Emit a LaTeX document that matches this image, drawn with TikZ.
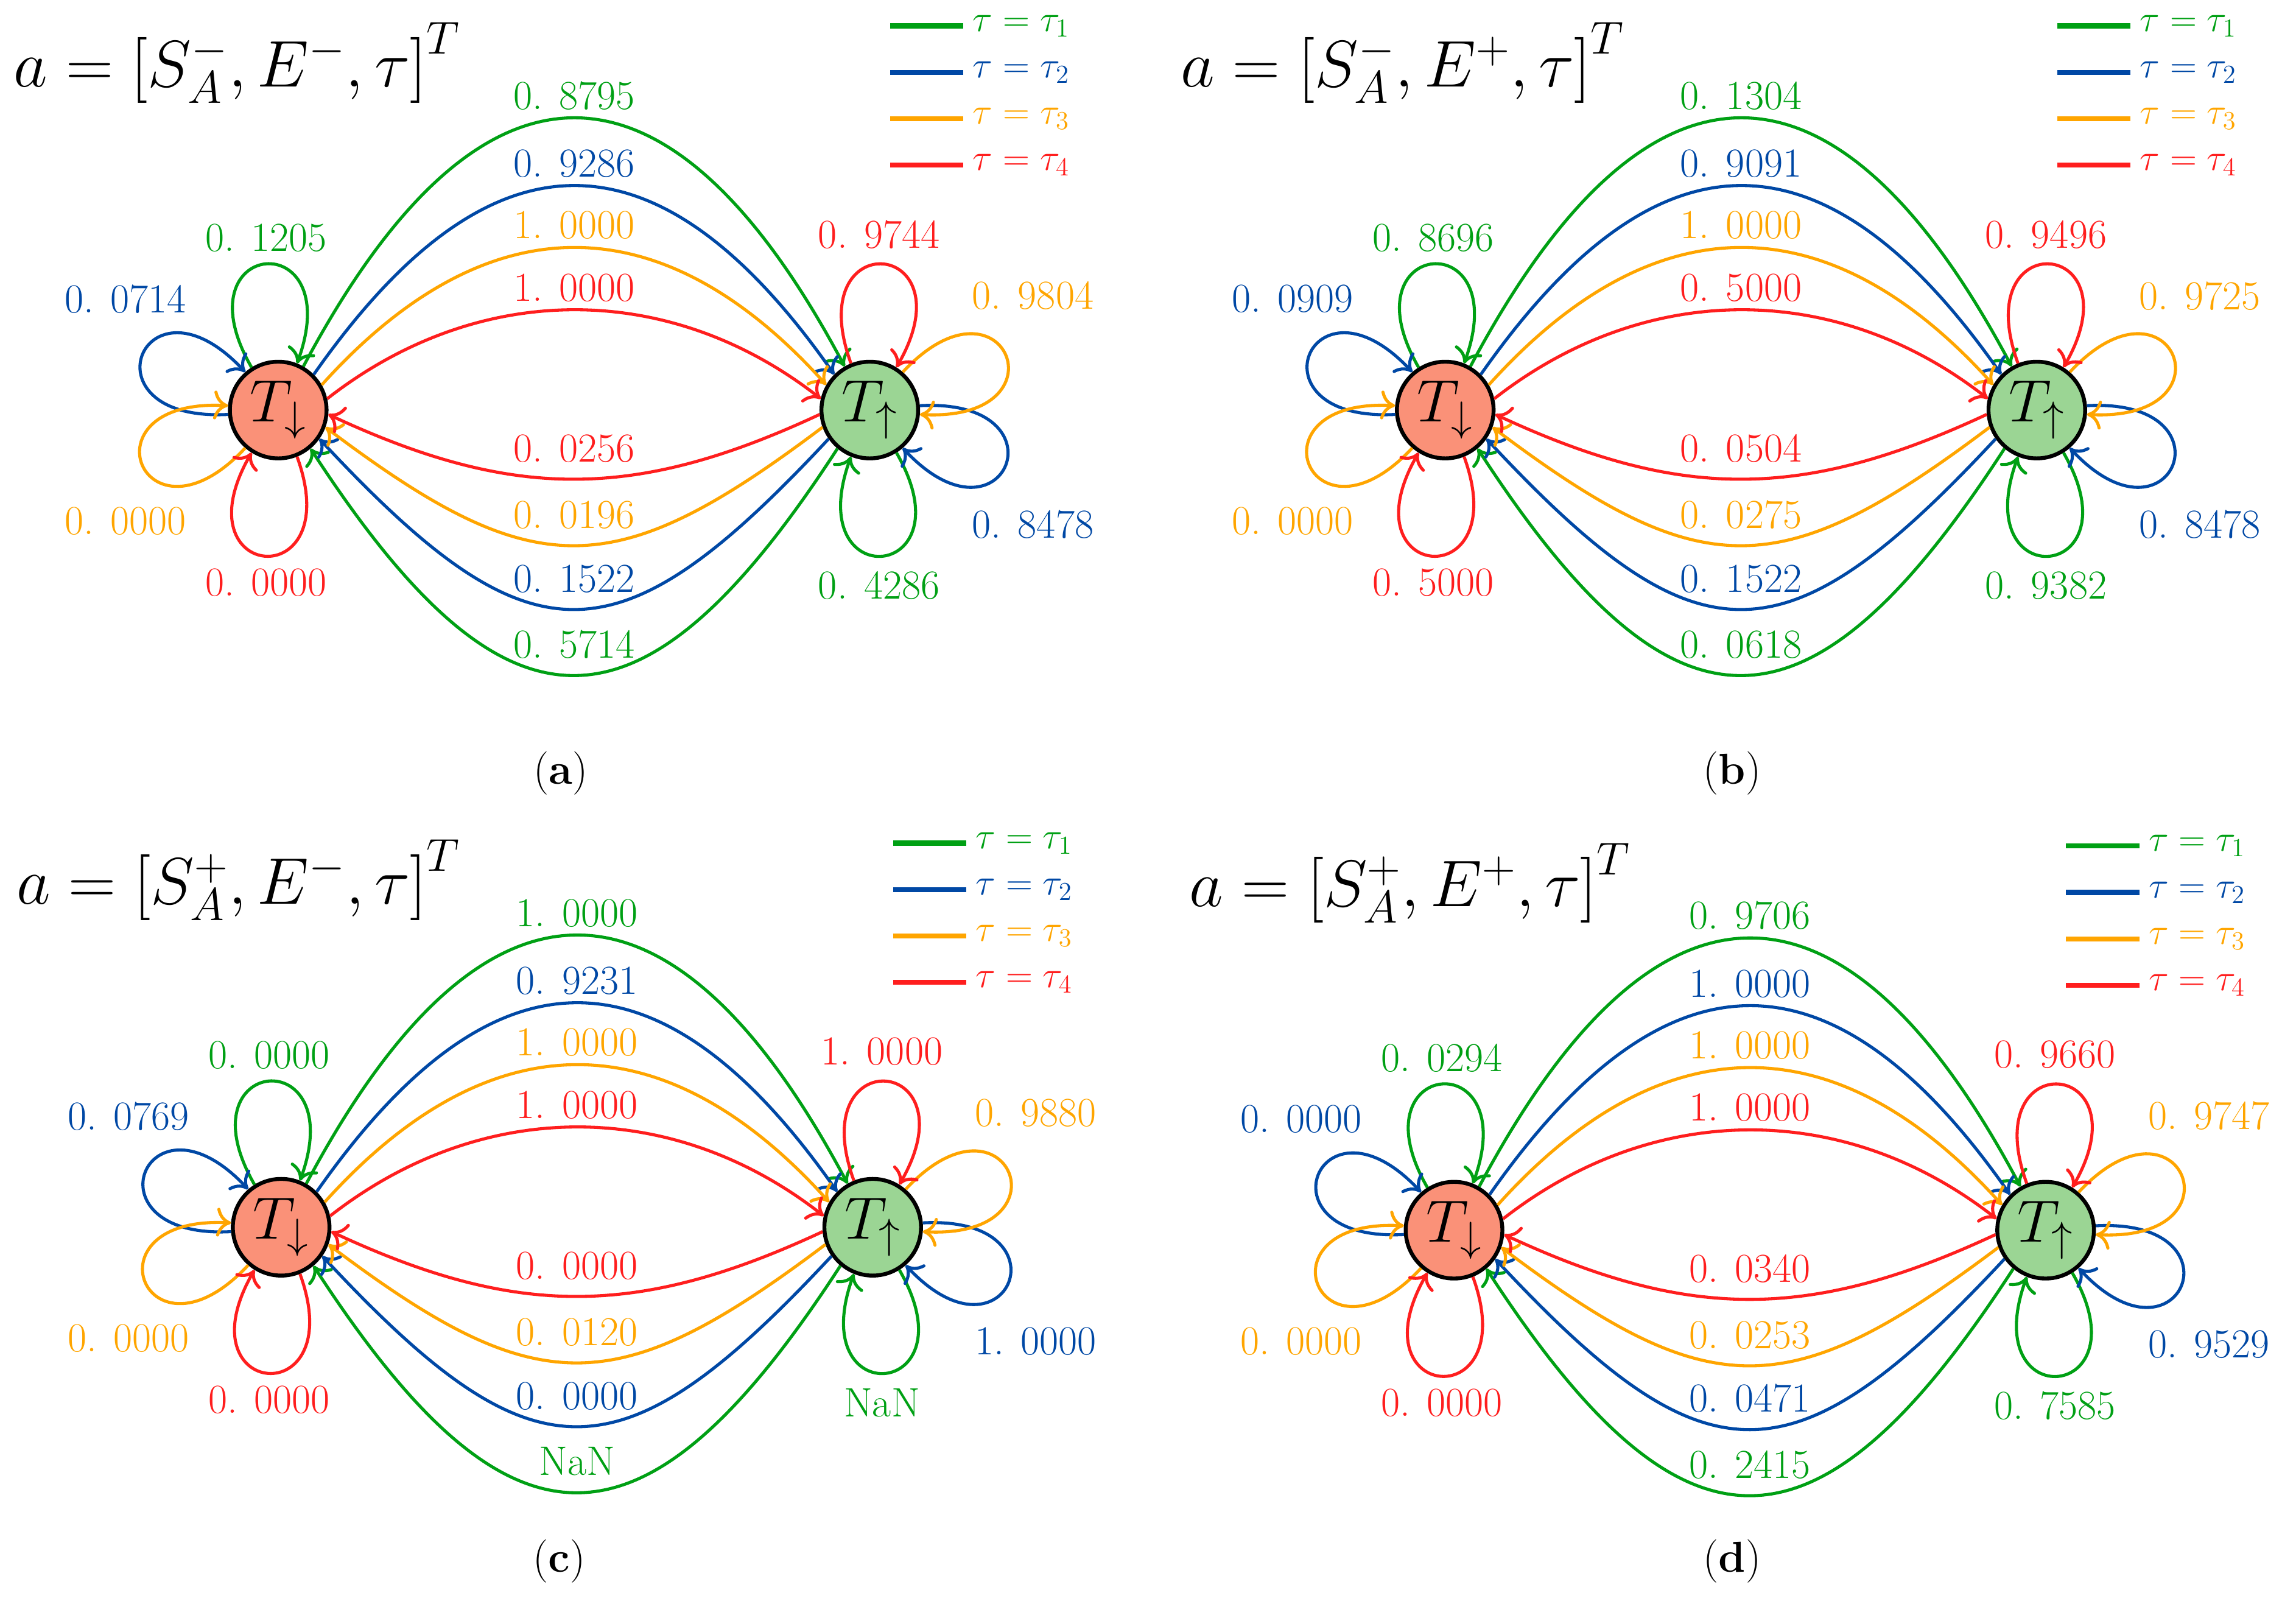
\documentclass[tikz,border=0pt]{standalone}
\usepackage{fix-cm}
\usepackage{tikz}
\usetikzlibrary{arrows.meta}

\definecolor{tau1}{RGB}{0,160,20}
\definecolor{tau2}{RGB}{0,72,165}
\definecolor{tau3}{RGB}{255,165,0}
\definecolor{tau4}{RGB}{255,30,30}
\definecolor{downfill}{RGB}{250,145,120}
\definecolor{upfill}{RGB}{155,213,148}

\tikzstyle{state}=[circle,draw=black,line width=1.9pt,minimum size=1.65cm,inner sep=0pt,font=\fontsize{29}{31}\selectfont]
\tikzstyle{edge} = [draw,line width=1.5pt,-{To[length=7pt,width=14pt]}]
\tikzstyle{prob} = [font=\fontsize{20}{22}\selectfont]
\tikzstyle{legtext} = [font=\fontsize{18}{20}\selectfont]
\tikzstyle{legline} = [line width=2.4pt]
\tikzstyle{vector} = [anchor=west,inner sep=0pt,font=\fontsize{32}{36}\selectfont]
\tikzstyle{caption} = [font=\fontsize{21}{24}\selectfont]

% one panel: #1 name, #2 place of T_down, #3 entries of a,
% #4 T_down -> T_up, #5 T_up -> T_down, #6 loops at T_down, #7 loops at T_up
\newcommand{\statepanel}[7]{%
\begin{scope}[shift={#2}]
	\node[state,fill=downfill] (#1d) at (0,0) {$T_\downarrow$};
	\node[state,fill=upfill] (#1u) at (404,0) {$T_\uparrow$};
	\node[vector] (#1v) at (-181,237) {$a=\left[#3,\tau\right]^T$};

	% legend
	\foreach \i in {1,...,4} {
		\coordinate (#1la\i) at (418,294-31.7*\i);
		\coordinate (#1lb\i) at (468,294-31.7*\i);
		\draw[legline,tau\i] (#1la\i) -- (#1lb\i) node[legtext,right] (#1lt\i) {$\tau = \tau_\i$};
	}

	% from T_down to T_up
	\foreach \pr [count=\i] in {#4} {
		\pgfmathtruncatemacro\anc{{60,45,30,13}[\i-1]}
		\pgfmathtruncatemacro\ancb{180-\anc}
		\pgfmathtruncatemacro\tng{{62,55,48,38}[\i-1]}
		\pgfmathtruncatemacro\tngb{180-\tng}
		\pgfmathsetmacro\dst{{6.4,5.24,4.2,3.28}[\i-1]}
		\path[edge,tau\i] (#1d.\anc) to[out=\tng,in=\tngb,distance=\dst cm] node[prob,above] {\pr} (#1u.\ancb);
	}

	% from T_up to T_down
	\foreach \pr [count=\i] in {#5} {
		\pgfmathtruncatemacro\anc{{50,35,20,5}[\i-1]}
		\pgfmathtruncatemacro\ancb{180+\anc}
		\pgfmathtruncatemacro\ancn{360-\anc}
		\pgfmathtruncatemacro\tng{{57,47,37,25}[\i-1]}
		\pgfmathtruncatemacro\tngb{180+\tng}
		\pgfmathtruncatemacro\tngn{360-\tng}
		\pgfmathsetmacro\dst{{6.15,5.3,4.47,3.48}[\i-1]}
		\path[edge,tau\i] (#1u.\ancb) to[out=\tngb,in=\tngn,distance=\dst cm] node[prob,above,yshift=4] {\pr} (#1d.\ancn);
	}

	% self loops, clockwise
	\foreach \pr [count=\i] in {#6} {
		\pgfmathtruncatemacro\dir{{95,158,202,265}[\i-1]}
		\pgfmathtruncatemacro\ancl{\dir+27}
		\pgfmathtruncatemacro\ancr{\dir-27}
		\path[edge,tau\i] (#1d.\ancl) to[out=\dir+25,in=\dir-25,distance=2.55cm] (#1d.\ancr);
		\pgfmathsetmacro\lang{{94,144,216,266}[\i-1]}
		\pgfmathsetmacro\lrad{{118,129,129,118}[\i-1]}
		\path (#1d) ++(\lang:\lrad) node[prob,tau\i] (#1dp\i) {\pr};
	}
	\foreach \pr [count=\i] in {#7} {
		\pgfmathtruncatemacro\dir{{275,338,22,85}[\i-1]}
		\pgfmathtruncatemacro\ancl{mod(\dir+27,360)}
		\pgfmathtruncatemacro\ancr{mod(\dir+333,360)}
		\path[edge,tau\i] (#1u.\ancl) to[out=\dir+25,in=\dir-25,distance=2.55cm] (#1u.\ancr);
		\pgfmathsetmacro\lang{{273,325,35,87}[\i-1]}
		\pgfmathsetmacro\lrad{{120,136,136,120}[\i-1]}
		\path (#1u) ++(\lang:\lrad) node[prob,tau\i] (#1up\i) {\pr};
	}
\end{scope}}

\begin{document}
\begin{tikzpicture}[x=0.025cm,y=0.025cm]
\useasboundingbox (0,0) rectangle (1568,1095);

\statepanel{a}{(190,815)}{S_A^-,E^-}
	{0. 8795,0. 9286,1. 0000,1. 0000}{0. 5714,0. 1522,0. 0196,0. 0256}
	{0. 1205,0. 0714,0. 0000,0. 0000}{0. 4286,0. 8478,0. 9804,0. 9744}
\statepanel{b}{(987,815)}{S_A^-,E^+}
	{0. 1304,0. 9091,1. 0000,0. 5000}{0. 0618,0. 1522,0. 0275,0. 0504}
	{0. 8696,0. 0909,0. 0000,0. 5000}{0. 9382,0. 8478,0. 9725,0. 9496}
\statepanel{c}{(192,257)}{S_A^+,E^-}
	{1. 0000,0. 9231,1. 0000,1. 0000}{NaN,0. 0000,0. 0120,0. 0000}
	{0. 0000,0. 0769,0. 0000,0. 0000}{NaN,1. 0000,0. 9880,1. 0000}
\statepanel{d}{(993,255)}{S_A^+,E^+}
	{0. 9706,1. 0000,1. 0000,1. 0000}{0. 2415,0. 0471,0. 0253,0. 0340}
	{0. 0294,0. 0000,0. 0000,0. 0000}{0. 7585,0. 9529,0. 9747,0. 9660}

% sub-captions
\node[caption] (capa) at (383,567) {(\textbf{a})};
\node[caption] (capb) at (1183,567) {(\textbf{b})};
\node[caption] (capc) at (382,29) {(\textbf{c})};
\node[caption] (capd) at (1183,29) {(\textbf{d})};
\end{tikzpicture}
\end{document}
